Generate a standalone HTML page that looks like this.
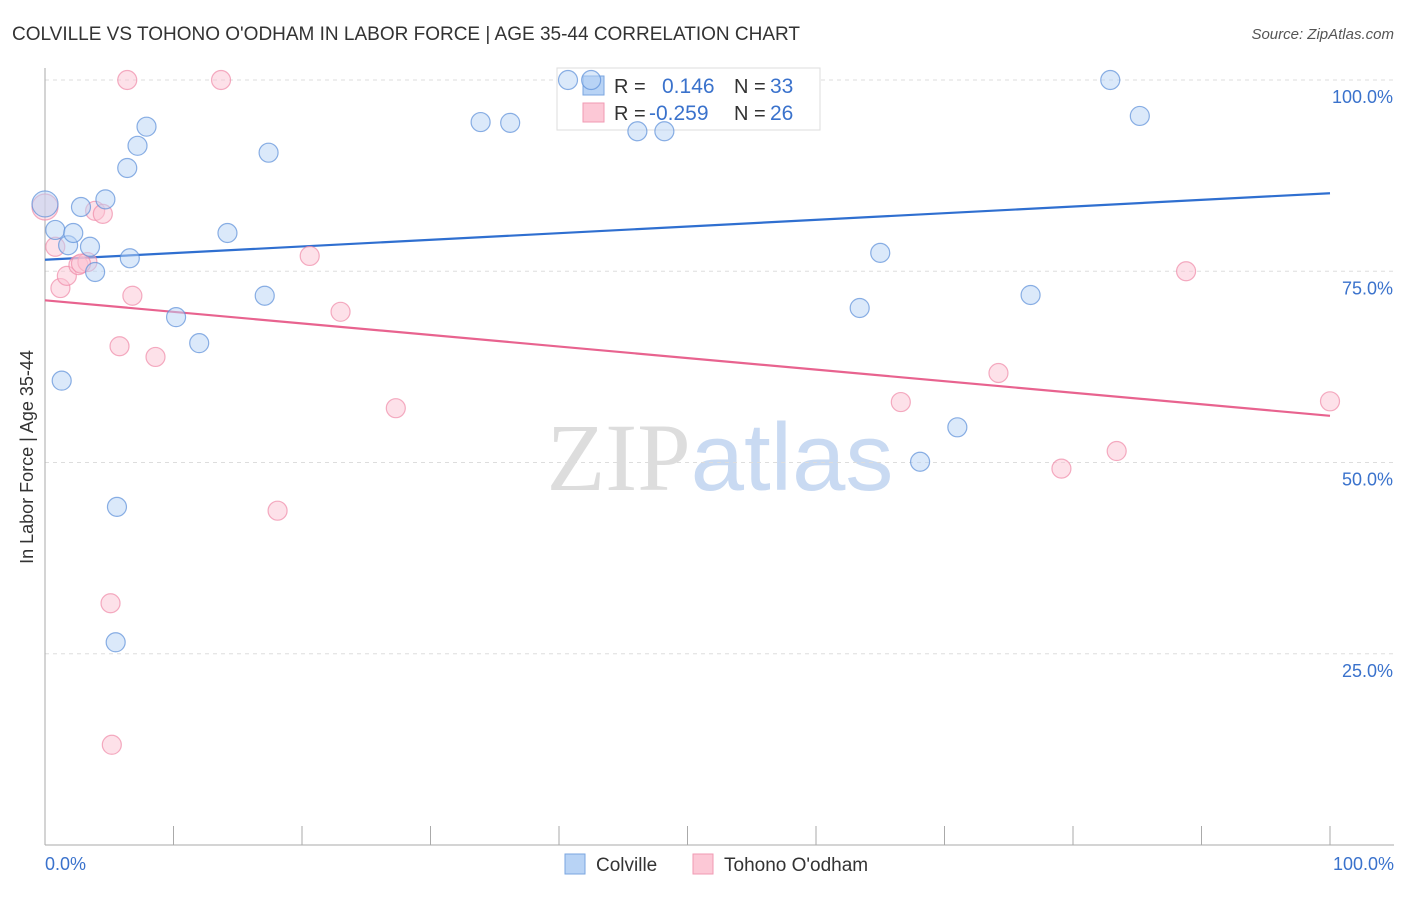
<!DOCTYPE html>
<html><head><meta charset="utf-8"><style>
body{margin:0;background:#fff;font-family:"Liberation Sans",sans-serif;}
svg text{font-family:"Liberation Sans",sans-serif;}
</style></head><body>
<svg id="chart" width="1406" height="892" xmlns="http://www.w3.org/2000/svg">
<text x="12" y="40" font-size="19" fill="#333" textLength="788" lengthAdjust="spacingAndGlyphs">COLVILLE VS TOHONO O'ODHAM IN LABOR FORCE | AGE 35-44 CORRELATION CHART</text>
<text x="1394" y="39" font-size="15" fill="#555" text-anchor="end" font-style="italic">Source: ZipAtlas.com</text>
<text x="720" y="490" font-size="96" text-anchor="middle"><tspan fill="#ddd" font-family="Liberation Serif">ZIP</tspan><tspan fill="#c9daf2">atlas</tspan></text>
<text transform="translate(33,457) rotate(-90)" font-size="18" fill="#333" text-anchor="middle">In Labor Force | Age 35-44</text>
<g id="grid"></g><g id="lines"></g>
<g>
<rect x="557" y="68" width="263" height="62" fill="#fff" stroke="#ddd"/>
<rect x="583" y="76" width="21" height="19" fill="#b8d3f5" stroke="#7aa6e0"/>
<rect x="583" y="103" width="21" height="19" fill="#fcc8d6" stroke="#f09ab3"/>
<text x="614" y="93" font-size="20" fill="#333">R =</text>
<text x="662" y="93" font-size="21" fill="#3a72cc">0.146</text>
<text x="734" y="93" font-size="20" fill="#333">N =</text>
<text x="770" y="93" font-size="21" fill="#3a72cc">33</text>
<text x="614" y="120" font-size="20" fill="#333">R =</text>
<text x="649" y="120" font-size="21" fill="#3a72cc">-0.259</text>
<text x="734" y="120" font-size="20" fill="#333">N =</text>
<text x="770" y="120" font-size="21" fill="#3a72cc">26</text>
</g>
<g id="pts"></g>
<g>
<rect x="565" y="854" width="20" height="20" fill="#b8d3f5" stroke="#7aa6e0"/>
<text x="596" y="871" font-size="19" fill="#333">Colville</text>
<rect x="693" y="854" width="20" height="20" fill="#fcc8d6" stroke="#f09ab3"/>
<text x="724" y="871" font-size="19" fill="#333">Tohono O'odham</text>
</g>
<text x="45" y="870" font-size="18" fill="#3a72cc">0.0%</text>
<text x="1394" y="870" font-size="18" fill="#3a72cc" text-anchor="end">100.0%</text>
</svg>
<script>
const yTicks=[100,75,50,25];
const yTickLabels=["100.0%","75.0%","50.0%","25.0%"];
const xTicks=[0,10,20,30,40,50,60,70,80,90,100];
const colvilleX=[0,0.8,1.8,2.2,2.8,3.5,3.9,4.7,6.6,6.4,7.2,7.9,1.3,5.6,5.5,10.2,12.0,14.2,17.1,17.4,33.9,36.2,40.7,42.5,46.1,48.2,63.4,65.0,68.1,71.0,76.7,82.9,85.2];
const colvilleY=[83.8,80.4,78.4,80.0,83.4,78.2,74.9,84.4,76.7,88.5,91.4,93.9,60.7,44.2,26.5,69.0,65.6,80.0,71.8,90.5,94.5,94.4,100,100,93.3,93.3,70.2,77.4,50.1,54.6,71.9,100,95.3];
const tohonoX=[0,0.8,1.2,1.7,2.6,3.3,3.9,4.5,6.8,5.8,8.6,6.4,13.7,5.1,5.2,18.1,20.6,23.0,27.3,66.6,74.2,79.1,83.4,88.8,100,2.8];
const tohonoY=[83.4,78.2,72.8,74.4,75.8,76.2,82.9,82.5,71.8,65.2,63.8,100,100,31.6,13.1,43.7,77.0,69.7,57.1,57.9,61.7,49.2,51.5,75.0,58.0,76.0];
const colvilleTrend=[76.5,85.2];
const tohonoTrend=[71.2,56.1];
const NS="http://www.w3.org/2000/svg";
const X=v=>45+v*12.85, Y=v=>845-v*7.65;
function mk(t,a,p){const e=document.createElementNS(NS,t);for(const k in a)e.setAttribute(k,a[k]);document.getElementById(p).appendChild(e);return e;}
yTicks.forEach((t,i)=>{
 const g=mk('line',{x1:45,x2:1394,y1:Y(t),y2:Y(t),stroke:'#ddd','stroke-dasharray':'4,4'},'grid');
 
 
 const l=mk('text',{x:1393,y:Y(t)+23,'font-size':18,fill:'#3a72cc','text-anchor':'end'},'grid');
 
 
 l.textContent=yTickLabels[i];
});
const ax=mk('line',{x1:45,x2:45,y1:68,y2:845,stroke:'#aaa'},'grid');


const bx=mk('line',{x1:45,x2:1394,y1:845,y2:845,stroke:'#aaa'},'grid');


xTicks.forEach(t=>{const e=mk('line',{x1:X(t),x2:X(t),y1:826,y2:845,stroke:'#aaa'},'grid');
 
 });
function pts(xs,ys,fill,stroke,name){xs.forEach((x,i)=>{const r=i===0?13:9.5;
 const c=mk('circle',{cx:X(x),cy:Y(ys[i]),r:r,fill:fill,'fill-opacity':0.5,stroke:stroke,'stroke-width':1.2,'stroke-opacity':0.7},'pts');
 
 });}
pts(tohonoX,tohonoY,'#fbc3d3','#f08aa8','tohono-point');
pts(colvilleX,colvilleY,'#b8d3f5','#5b8fd8','colville-point');
const l1=mk('line',{x1:X(0),x2:X(100),y1:Y(colvilleTrend[0]),y2:Y(colvilleTrend[1]),stroke:'#2f6fd0','stroke-width':2.2},'lines');


const l2=mk('line',{x1:X(0),x2:X(100),y1:Y(tohonoTrend[0]),y2:Y(tohonoTrend[1]),stroke:'#e8638f','stroke-width':2.2},'lines');


</script>
</body></html>
